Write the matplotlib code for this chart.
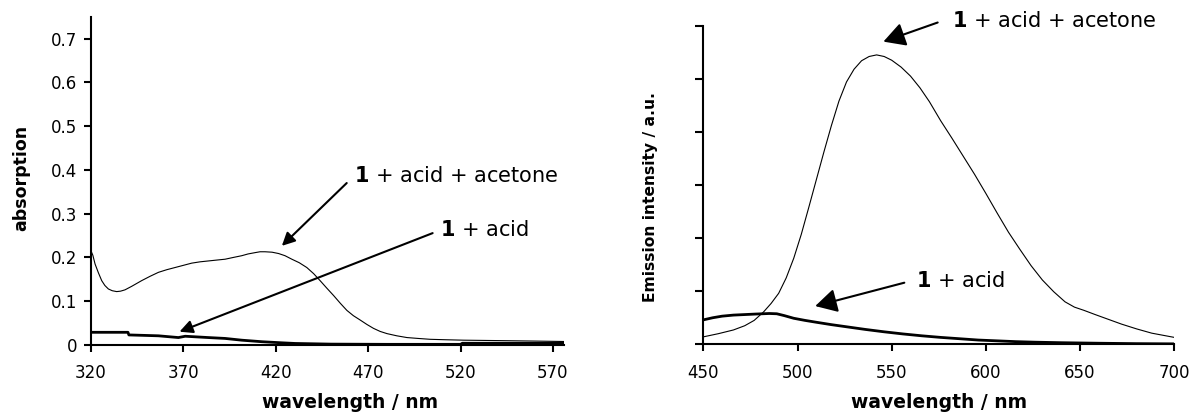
import matplotlib
matplotlib.use("Agg")
import matplotlib.pyplot as plt

plt.rcParams['font.family'] = ['DejaVu Sans']
plt.rcParams['mathtext.fontset'] = 'dejavusans'

# ---------------- Data: absorption (left) ----------------
abs_acetone_wl = [320, 321, 322.2, 324, 325.8, 327.5, 329.4, 331.5, 333.9, 336, 338.4, 342,
                  347.4, 352, 356.5, 361, 365.5, 370, 374.5, 379, 383.5, 388, 392.6, 397,
                  401.6, 405, 408.8, 411.5, 414.2, 418, 421.5, 425, 428.7, 432.7, 436.8,
                  440.5, 444, 447.6, 451.3, 455, 458.5, 462, 465.7, 469.3, 472.9, 476.5,
                  480.2, 485.5, 491, 497, 503.6, 512, 521.7, 541.6, 560, 576]
abs_acetone_val = [0.215, 0.205, 0.185, 0.165, 0.147, 0.136, 0.128, 0.124, 0.122, 0.123,
                   0.126, 0.134, 0.147, 0.157, 0.166, 0.172, 0.177, 0.182, 0.187, 0.190,
                   0.192, 0.194, 0.196, 0.200, 0.204, 0.208, 0.211, 0.213, 0.213, 0.212,
                   0.209, 0.204, 0.196, 0.188, 0.177, 0.163, 0.147, 0.130, 0.113, 0.095,
                   0.079, 0.067, 0.057, 0.047, 0.038, 0.031, 0.026, 0.021, 0.017, 0.015,
                   0.013, 0.012, 0.011, 0.010, 0.009, 0.008]

abs_acid_wl = [320, 340, 340.5, 356.5, 367.3, 371, 383.5, 392.6, 401.6, 412.5, 423.3, 430.5,
               450, 480, 520, 521, 560, 576]
abs_acid_val = [0.029, 0.029, 0.023, 0.021, 0.017, 0.020, 0.017, 0.015, 0.011, 0.0075, 0.005,
                0.0035, 0.002, 0.0015, 0.0015, 0.004, 0.004, 0.004]

abs_xticks = [320, 370, 420, 470, 520, 570]
abs_yticks = [0, 0.1, 0.2, 0.3, 0.4, 0.5, 0.6, 0.7]

# ---------------- Data: emission (right) ----------------
em_acetone_wl = [450, 458, 466, 472, 477, 482, 486, 490, 494, 498, 502, 506, 510, 514, 518,
                 522, 526, 530, 534, 538, 542, 546, 550, 555, 560, 565, 570, 576, 582, 588,
                 594, 600, 606, 612, 618, 624, 630, 636, 642, 647, 652, 658, 665, 672, 680,
                 688, 694, 700]
em_acetone_val = [0.14, 0.20, 0.27, 0.35, 0.45, 0.61, 0.77, 0.96, 1.25, 1.62, 2.07, 2.58,
                  3.10, 3.62, 4.12, 4.58, 4.94, 5.18, 5.34, 5.42, 5.45, 5.42, 5.35, 5.22,
                  5.05, 4.83, 4.57, 4.21, 3.88, 3.54, 3.20, 2.84, 2.47, 2.11, 1.79, 1.48,
                  1.21, 0.99, 0.80, 0.70, 0.64, 0.56, 0.47, 0.38, 0.29, 0.21, 0.17, 0.13]

em_acid_wl = [450, 455, 460, 466, 472, 478, 485, 489, 493, 498, 504, 510, 518, 526, 536,
              546, 556, 566, 576, 586, 596, 606, 616, 626, 640, 660, 680, 700]
em_acid_val = [0.46, 0.50, 0.53, 0.55, 0.56, 0.57, 0.58, 0.575, 0.54, 0.49, 0.45, 0.415,
               0.37, 0.33, 0.28, 0.235, 0.195, 0.16, 0.13, 0.105, 0.08, 0.065, 0.05, 0.04,
               0.03, 0.02, 0.012, 0.008]

em_xticks = [450, 500, 550, 600, 650, 700]
em_yticks = [0, 1, 2, 3, 4, 5, 6]

lbl_acetone = r"$\mathbf{1}$ + acid + acetone"
lbl_acid = r"$\mathbf{1}$ + acid"

# ---------------- Figure ----------------
W, H = 1197, 412
fig = plt.figure(figsize=(W / 100, H / 100), dpi=100)

ax1 = fig.add_axes([91 / W, (H - 345) / H, (564 - 91) / W, (345 - 16.7) / H])
ax2 = fig.add_axes([703.3 / W, (H - 344.3) / H, (1174.3 - 703.3) / W, (344.3 - 25.7) / H])

for ax in (ax1, ax2):
    for s in ('top', 'right'):
        ax.spines[s].set_visible(False)
    for s in ('left', 'bottom'):
        ax.spines[s].set_linewidth(1.5)
    ax.tick_params(axis='both', direction='out', length=5, width=1.5, labelsize=12)
    ax.tick_params(axis='x', pad=9)
    ax.tick_params(axis='y', pad=5)

# Left chart
ax1.plot(abs_acetone_wl, abs_acetone_val, color='black', lw=0.8)
ax1.plot(abs_acid_wl, abs_acid_val, color='black', lw=2.0)
ax1.set_xlim(320, 576)
ax1.set_ylim(0, 0.75)
ax1.set_xticks(abs_xticks)
ax1.set_yticks(abs_yticks)
ax1.set_yticklabels(['0' if v == 0 else f"{v:.1f}" for v in abs_yticks])

arrow_small = dict(arrowstyle='-|>,head_length=0.6,head_width=0.3', color='black',
                   lw=1.5, mutation_scale=13, shrinkA=0, shrinkB=0)
ax1.annotate('', xy=(423.3, 0.2265), xytext=(458.4, 0.37), arrowprops=arrow_small)
ax1.text(462.6, 0.387, lbl_acetone, fontsize=15, va='center', ha='left')
ax1.annotate('', xy=(367.9, 0.0304), xytext=(504.9, 0.2556), arrowprops=arrow_small)
ax1.text(509.1, 0.263, lbl_acid, fontsize=15, va='center', ha='left')

# Right chart
ax2.plot(em_acetone_wl, em_acetone_val, color='black', lw=0.8)
ax2.plot(em_acid_wl, em_acid_val, color='black', lw=2.0)
ax2.set_xlim(450, 700)
ax2.set_ylim(0, 6)
ax2.set_xticks(em_xticks)
ax2.set_yticks(em_yticks)
ax2.set_yticklabels([])
ax2.tick_params(axis='y', length=6)

arrow_big = dict(arrowstyle='-|>,head_length=0.6,head_width=0.33', color='black',
                 lw=1.5, mutation_scale=22, shrinkA=0, shrinkB=0)
ax2.annotate('', xy=(545.6, 5.70), xytext=(574.4, 6.06), arrowprops=arrow_big,
             annotation_clip=False)
ax2.text(581.8, 6.08, lbl_acetone, fontsize=15, va='center', ha='left', clip_on=False)
ax2.annotate('', xy=(509.4, 0.72), xytext=(556.7, 1.16), arrowprops=arrow_big)
ax2.text(562.7, 1.19, lbl_acid, fontsize=15, va='center', ha='left')

# Axis labels (placed in figure pixels)
fig.text(350 / W, (H - 402) / H, 'wavelength / nm', fontsize=13.5, fontweight='bold',
         ha='center', va='center')
fig.text(939 / W, (H - 402) / H, 'wavelength / nm', fontsize=13.5, fontweight='bold',
         ha='center', va='center')
fig.text(21.7 / W, (H - 178) / H, 'absorption', fontsize=12.5, fontweight='bold',
         ha='center', va='center', rotation=90)
fig.text(650 / W, (H - 197) / H, 'Emission intensity / a.u.', fontsize=11.2, fontweight='bold',
         ha='center', va='center', rotation=90)

fig.savefig('out.png', dpi=100)
